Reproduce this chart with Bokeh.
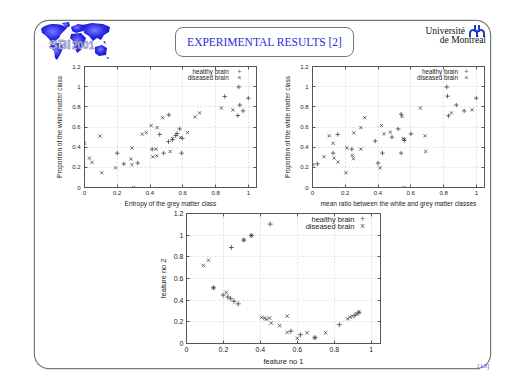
from bokeh.plotting import figure
from bokeh.models import FixedTicker, LinearAxis, Label, Div, Spacer, Range1d
from bokeh.layouts import column, row
from bokeh.embed import file_html
from bokeh.resources import INLINE

# ---------------- data ----------------
x_ticks = [0, 0.2, 0.4, 0.6, 0.8, 1]
x_tick_labels = ["0", "0.2", "0.4", "0.6", "0.8", "1"]
y_ticks = [0, 0.2, 0.4, 0.6, 0.8, 1, 1.2]
y_tick_labels = ["0", "0.2", "0.4", "0.6", "0.8", "1", "1.2"]
series_names = ["healthy brain", "diseased brain"]

# plot 1: entropy of the grey matter class vs proportion of white matter class
p1_healthy_x = [0.20, 0.24, 0.325, 0.413, 0.459, 0.483, 0.515, 0.513, 0.537, 0.557,
                0.565, 0.581, 0.597, 0.593, 0.856, 0.942, 0.948, 0.936, 0.968, 1.0]
p1_healthy_y = [0.34, 0.234, 0.243, 0.38, 0.526, 0.341, 0.72, 0.455, 0.474, 0.516,
                0.536, 0.581, 0.487, 0.341, 0.903, 0.997, 0.818, 0.714, 0.76, 0.886]
p1_diseased_x = [0.0, 0.03, 0.046, 0.094, 0.106, 0.19, 0.283, 0.29, 0.29, 0.30,
                 0.353, 0.377, 0.407, 0.417, 0.437, 0.443, 0.441, 0.477, 0.523, 0.537,
                 0.587, 0.629, 0.675, 0.703, 0.836, 0.906]
p1_diseased_y = [0.44, 0.29, 0.25, 0.51, 0.146, 0.195, 0.283, 0.393, 0.227, 0.0,
                 0.529, 0.545, 0.614, 0.305, 0.38, 0.594, 0.315, 0.692, 0.357, 0.487,
                 0.497, 0.545, 0.701, 0.74, 0.789, 0.77]

# plot 2: mean ratio between white and grey matter classes vs proportion of white matter
p2_healthy_x = [0.03, 0.154, 0.126, 0.24, 0.383, 0.40, 0.427, 0.485, 0.523, 0.541,
                0.541, 0.561, 0.601, 0.82, 0.824, 0.83, 0.878, 0.926, 1.0]
p2_healthy_y = [0.234, 0.526, 0.341, 0.38, 0.461, 0.243, 0.341, 0.50, 0.581, 0.727,
                0.341, 0.468, 0.532, 0.997, 0.906, 0.711, 0.818, 0.76, 0.886]
p2_diseased_x = [0.004, 0.07, 0.102, 0.126, 0.132, 0.156, 0.204, 0.21, 0.252, 0.242,
                 0.25, 0.295, 0.295, 0.319, 0.413, 0.421, 0.437, 0.475, 0.547, 0.553,
                 0.561, 0.559, 0.659, 0.687, 0.691, 0.848, 0.974]
p2_diseased_y = [0.227, 0.305, 0.513, 0.438, 0.292, 0.253, 0.146, 0.393, 0.542, 0.318,
                 0.286, 0.594, 0.38, 0.692, 0.195, 0.614, 0.532, 0.549, 0.705, 0.487,
                 0.477, 0.0, 0.789, 0.513, 0.357, 0.74, 0.77]

# plot 3: feature no 1 vs feature no 2
p3_healthy_x = [0.146, 0.243, 0.31, 0.351, 0.453, 0.198, 0.224, 0.239, 0.257, 0.28,
                0.565, 0.617, 0.695, 0.827, 0.911, 0.933]
p3_healthy_y = [0.514, 0.886, 0.955, 0.997, 1.102, 0.447, 0.429, 0.414, 0.39, 0.366,
                0.114, 0.081, 0.054, 0.174, 0.261, 0.288]
p3_diseased_x = [0.091, 0.119, 0.146, 0.31, 0.351, 0.215, 0.407, 0.422, 0.433, 0.45,
                 0.459, 0.504, 0.545, 0.545, 0.60, 0.652, 0.695, 0.753, 0.872, 0.885,
                 0.898, 0.922, 0.933]
p3_diseased_y = [0.72, 0.769, 0.514, 0.955, 0.997, 0.471, 0.24, 0.234, 0.225, 0.234,
                 0.189, 0.165, 0.252, 0.102, 0.048, 0.099, 0.054, 0.099, 0.228, 0.243,
                 0.252, 0.273, 0.288]

SANS = "Liberation Sans"
SERIF = "Liberation Serif"
INK = "#3a3a3a"


def make_plot(w, h, min_left, min_bottom, xlabel, ylabel, hx, hy, dx, dy,
              tick_fs, label_fs, leg_fs, msize, leg_text_x, leg_sym_x, leg_y,
              y_tick_standoff, y_label_standoff):
    p = figure(width=w, height=h, x_range=Range1d(0, 1.05), y_range=Range1d(0, 1.2),
               output_backend="svg", toolbar_location=None,
               min_border_left=min_left, min_border_right=5,
               min_border_top=4, min_border_bottom=min_bottom,
               background_fill_color="white", border_fill_color="white")
    p.outline_line_color = "#555555"
    p.outline_line_width = 1

    xt = FixedTicker(ticks=x_ticks)
    yt = FixedTicker(ticks=y_ticks)
    p.xaxis.ticker = xt
    p.yaxis.ticker = yt
    p.xaxis.major_label_overrides = dict(zip(x_ticks, x_tick_labels))
    p.yaxis.major_label_overrides = dict(zip(y_ticks, y_tick_labels))
    p.xaxis.axis_label = xlabel
    p.yaxis.axis_label = ylabel
    for ax in (p.xaxis[0], p.yaxis[0]):
        ax.axis_line_color = "#555555"
        ax.major_tick_in = 3
        ax.major_tick_out = 0
        ax.minor_tick_in = 0
        ax.minor_tick_out = 0
        ax.major_tick_line_color = "#555555"
        ax.major_label_text_font = SANS
        ax.major_label_text_font_size = f"{tick_fs}px"
        ax.major_label_text_color = "#222222"
        ax.axis_label_text_font = SANS
        ax.axis_label_text_font_size = f"{label_fs}px"
        ax.axis_label_text_font_style = "normal"
        ax.axis_label_text_color = "#222222"
    p.xaxis.major_label_standoff = 3
    p.xaxis.axis_label_standoff = 2
    p.yaxis.major_label_standoff = y_tick_standoff
    p.yaxis.axis_label_standoff = y_label_standoff

    # mirrored tick marks on top and right (gnuplot style), no labels
    for side, tk in (("above", xt), ("right", yt)):
        ax = LinearAxis(ticker=tk, major_label_text_font_size="1px",
                        major_label_text_color=None,
                        major_label_standoff=0, major_tick_in=3, major_tick_out=0,
                        minor_tick_in=0, minor_tick_out=0, axis_line_color=None,
                        major_tick_line_color="#555555")
        p.add_layout(ax, side)

    p.xgrid.ticker = xt
    p.ygrid.ticker = yt
    for g in (p.xgrid[0], p.ygrid[0]):
        g.grid_line_color = "#d8d8d8"
        g.grid_line_dash = "2 2"
        g.grid_line_width = 0.8

    p.scatter(hx, hy, marker="cross", size=msize, line_color=INK, line_width=0.75)
    p.scatter(dx, dy, marker="x", size=msize, line_color=INK, line_width=0.75)

    # gnuplot-style key: right aligned text followed by the symbol
    for name, sym, yy in ((series_names[0], "+", leg_y[0]), (series_names[1], "\u00d7", leg_y[1])):
        p.add_layout(Label(x=leg_text_x, y=yy, text=name, text_align="right",
                           text_baseline="middle", text_font=SANS,
                           text_font_size=f"{leg_fs}px", text_color="#222222"))
        p.add_layout(Label(x=leg_sym_x, y=yy, text=sym, text_align="center",
                           text_baseline="middle", text_font=SANS,
                           text_font_size=f"{leg_fs + 1}px", text_color="#555555"))
    return p


p1 = make_plot(208, 147, 28, 21, "Entropy of the grey matter class",
               "Proportion of the white matter class",
               p1_healthy_x, p1_healthy_y, p1_diseased_x, p1_diseased_y,
               6, 6.5, 6.3, 4.5, 0.88, 0.945, (1.147, 1.088), 4, 6)
p2 = make_plot(208, 147, 28, 21, "mean ratio between the white and grey matter classes",
               "Proportion of the white matter class",
               p2_healthy_x, p2_healthy_y, p2_diseased_x, p2_diseased_y,
               6, 6.5, 6.3, 4.5, 0.888, 0.94, (1.147, 1.088), 4, 6)
p3 = make_plot(230, 159, 27, 21, "feature no 1", "feature no 2",
               p3_healthy_x, p3_healthy_y, p3_diseased_x, p3_diseased_y,
               7, 7.5, 7.5, 5, 0.909, 0.952, (1.145, 1.084), 3, 3)

# ---------------- slide decorations ----------------
logo_svg = (
    '<svg width="72" height="40" xmlns="http://www.w3.org/2000/svg" style="position:absolute;left:5px;top:1px">'
    '<defs><radialGradient id="gw" cx="45%" cy="40%" r="75%">'
    '<stop offset="0" stop-color="#7c7cff"/><stop offset="0.5" stop-color="#2626e8"/>'
    '<stop offset="1" stop-color="#1010b8"/></radialGradient></defs>'
    '<g fill="url(#gw)">'
    '<path d="M1,7 C5,2 14,1 22,3 L27,6 L24,9 L21,12 L19,16 L15,19 L12,21 L9,17 L5,13 L2,11 Z"/>'
    '<path d="M22,1 L29,0 L30,4 L26,6 Z"/>'
    '<path d="M11,22 L19,21 L23,25 L21,31 L17,38 L15,36 L14,29 L10,25 Z"/>'
    '<path d="M31,5 L38,2 L44,3 L43,9 L36,11 L32,9 Z"/>'
    '<path d="M31,12 L41,11 L46,16 L44,22 L41,28 L37,31 L35,26 L33,19 L30,16 Z"/>'
    '<path d="M42,3 L52,1 L63,2 L70,5 L69,10 L64,13 L61,18 L57,16 L53,19 L49,14 L44,11 Z"/>'
    '<path d="M55,25 L62,23 L67,26 L66,33 L59,34 L55,31 Z"/>'
    '<path d="M66,36 L68,35 L69,37 Z M63,20 L65,19 L66,22 Z"/>'
    '</g>'
    '<text x="9" y="27" font-family="Liberation Serif" font-weight="bold" font-size="13" '
    'fill="#d2d2f0" stroke="#55559a" stroke-width="0.5">SBI</text>'
    '<text x="32" y="27" font-family="Liberation Serif" font-weight="bold" font-size="10" '
    'fill="#d2d2f0" stroke="#55559a" stroke-width="0.4">2001</text>'
    '</svg>'
)
logo = Div(text='<div style="position:relative;width:110px;height:41px">' + logo_svg + '</div>',
           width=110, height=41, margin=0)

title = Div(text=('<div style="box-sizing:border-box;width:179px;height:30px;border:1px solid #777;'
                  'border-radius:8px;text-align:center;line-height:28px;'
                  'font-family:\'Liberation Serif\';font-size:11.5px;color:#2b2bdc;'
                  'white-space:nowrap">EXPERIMENTAL RESULTS [2]</div>'),
            width=179, height=30, margin=0)

udem_svg = ('<svg width="18" height="12" xmlns="http://www.w3.org/2000/svg" '
            'style="position:absolute;right:4px;top:4px">'
            '<g fill="none" stroke="#1e3ccc" stroke-width="2">'
            '<path d="M7,0 V7 M11,0 V7"/>'
            '<path d="M2,12 V8 A3.5,3 0 0 1 9,8 V12 M9,8 A3.5,3 0 0 1 16,8 V12"/>'
            '</g></svg>')
univ = Div(text=('<div style="position:relative;width:136px;height:41px;'
                 'font-family:\'Liberation Serif\';font-size:9.5px;line-height:9px;color:#111">'
                 + udem_svg +
                 '<div style="position:absolute;right:25px;top:6px;white-space:nowrap">Université</div>'
                 '<div style="position:absolute;right:4px;top:15px;white-space:nowrap">de Montréal</div>'
                 '</div>'),
           width=136, height=41, margin=0)

page_no = Div(text=('<div style="width:104px;text-align:right;font-family:\'Liberation Serif\';'
                    'font-size:7px;line-height:10px;color:#4a4aff">[13]</div>'),
              width=105, height=10, margin=0)

header = row(logo, Spacer(width=30, height=41), column(Spacer(width=179, height=6), title), univ,
             width=455, height=41)
top_row = row(Spacer(width=18, height=147), p1, Spacer(width=20, height=147), p2,
              width=455, height=147)
bottom_row = row(Spacer(width=120, height=159), p3,
                 column(Spacer(width=105, height=147), page_no),
                 width=455, height=159)

frame = column(header, top_row, bottom_row, width=455, height=347,
               styles={"box-shadow": "0 0 0 1.2px #7a7a7a",
                       "border-radius": "14px", "background": "white"})
root = column(Spacer(width=10, height=21), row(Spacer(width=35, height=10), frame))

open("out.html", "w").write(file_html(root, INLINE))
